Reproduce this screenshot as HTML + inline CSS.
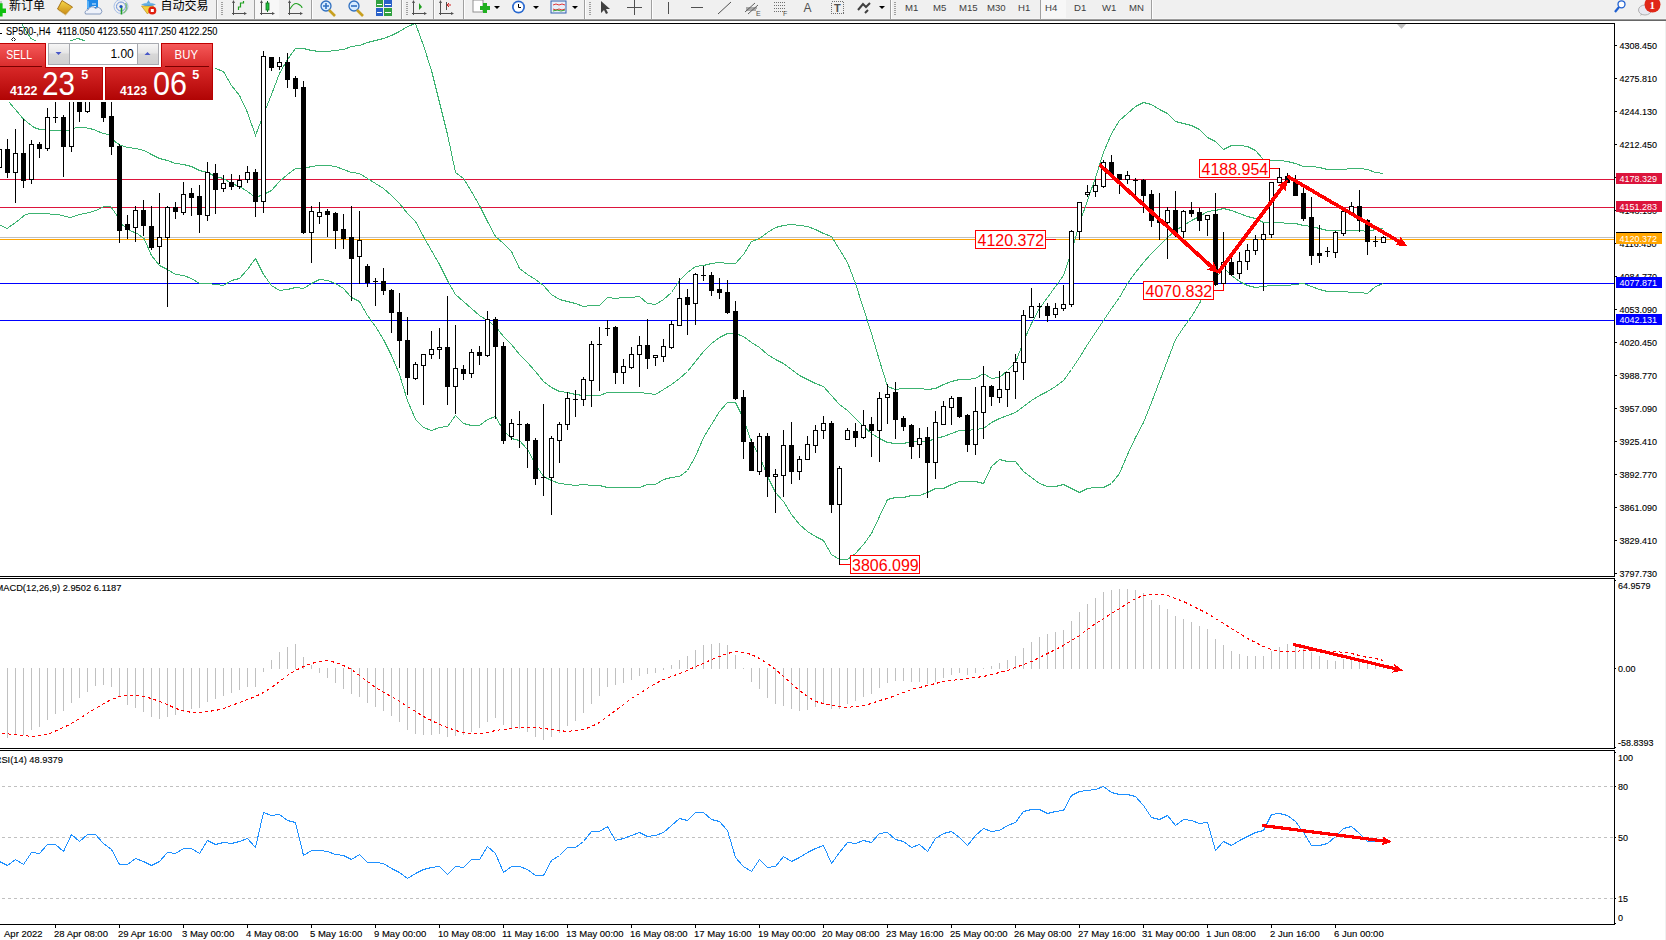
<!DOCTYPE html>
<html><head><meta charset="utf-8"><title>SP500-,H4</title>
<style>
html,body{margin:0;padding:0;background:#fff;}
body{width:1666px;height:940px;overflow:hidden;position:relative;}
svg{position:absolute;left:0;top:0;display:block;}
</style></head><body>
<svg width="1666" height="940" viewBox="0 0 1666 940">
<rect x="0" y="0" width="1666" height="19" fill="#f0f0f0"/>
<rect x="0" y="18" width="1666" height="1" fill="#f5f5f5"/>
<rect x="0" y="19" width="1666" height="1" fill="#9c9c9c"/>
<rect x="0" y="20" width="1666" height="1" fill="#666666"/>
<rect x="1665" y="21" width="1" height="919" fill="#f0f0f0"/>
<rect x="216" y="0" width="1" height="19" fill="#a0a0a0"/><rect x="217" y="0" width="1" height="19" fill="#fdfdfd"/>
<rect x="254" y="0" width="1" height="19" fill="#a0a0a0"/><rect x="255" y="0" width="1" height="19" fill="#fdfdfd"/>
<rect x="311" y="0" width="1" height="19" fill="#a0a0a0"/><rect x="312" y="0" width="1" height="19" fill="#fdfdfd"/>
<rect x="401" y="0" width="1" height="19" fill="#a0a0a0"/><rect x="402" y="0" width="1" height="19" fill="#fdfdfd"/>
<rect x="433" y="0" width="1" height="19" fill="#a0a0a0"/><rect x="434" y="0" width="1" height="19" fill="#fdfdfd"/>
<rect x="463" y="0" width="1" height="19" fill="#a0a0a0"/><rect x="464" y="0" width="1" height="19" fill="#fdfdfd"/>
<rect x="584" y="0" width="1" height="19" fill="#a0a0a0"/><rect x="585" y="0" width="1" height="19" fill="#fdfdfd"/>
<rect x="651" y="0" width="1" height="19" fill="#a0a0a0"/><rect x="652" y="0" width="1" height="19" fill="#fdfdfd"/>
<rect x="890" y="0" width="1" height="19" fill="#a0a0a0"/><rect x="891" y="0" width="1" height="19" fill="#fdfdfd"/>
<rect x="1040" y="0" width="1" height="19" fill="#a0a0a0"/><rect x="1041" y="0" width="1" height="19" fill="#fdfdfd"/>
<rect x="1151" y="0" width="1" height="19" fill="#a0a0a0"/><rect x="1152" y="0" width="1" height="19" fill="#fdfdfd"/>
<path d="M221 2.5h2M221 4.5h2M221 6.5h2M221 8.5h2M221 10.5h2M221 12.5h2M221 14.5h2" stroke="#a0a0a0" stroke-width="1" shape-rendering="crispEdges"/>
<path d="M406 2.5h2M406 4.5h2M406 6.5h2M406 8.5h2M406 10.5h2M406 12.5h2M406 14.5h2" stroke="#a0a0a0" stroke-width="1" shape-rendering="crispEdges"/>
<path d="M589 2.5h2M589 4.5h2M589 6.5h2M589 8.5h2M589 10.5h2M589 12.5h2M589 14.5h2" stroke="#a0a0a0" stroke-width="1" shape-rendering="crispEdges"/>
<path d="M894 2.5h2M894 4.5h2M894 6.5h2M894 8.5h2M894 10.5h2M894 12.5h2M894 14.5h2" stroke="#a0a0a0" stroke-width="1" shape-rendering="crispEdges"/>
<rect x="255" y="0" width="24" height="18" fill="#f7f7f7"/>
<rect x="1041" y="0" width="25" height="18" fill="#f7f7f7"/>
<rect x="1040" y="0" width="1" height="18" fill="#a0a0a0"/>
<g font-family='"Liberation Sans", "Noto Sans CJK SC", "WenQuanYi Zen Hei", sans-serif' font-size="12" fill="#000"><text x="9" y="10">新订单</text><text x="160.5" y="10">自动交易</text></g>
<g font-family='"Liberation Sans", "DejaVu Sans", sans-serif' font-size="9.6" fill="#404040">
<text x="905" y="10.5">M1</text>
<text x="933" y="10.5">M5</text>
<text x="959" y="10.5">M15</text>
<text x="987" y="10.5">M30</text>
<text x="1018" y="10.5">H1</text>
<text x="1045" y="10.5">H4</text>
<text x="1074" y="10.5">D1</text>
<text x="1102" y="10.5">W1</text>
<text x="1129" y="10.5">MN</text>
</g>
<rect x="0" y="1" width="2" height="4" fill="#c8c8c8"/><path d="M0 3.3h2.6V8.6H6V13H2.6v3.4H0z" fill="#10c010"/>
<defs><linearGradient id="gbook" x1="0" y1="0" x2="0" y2="1"><stop offset="0" stop-color="#f7d84a"/><stop offset="1" stop-color="#c88a18"/></linearGradient><linearGradient id="ghat" x1="0" y1="0" x2="0" y2="1"><stop offset="0" stop-color="#9fd0f0"/><stop offset="1" stop-color="#3a90d0"/></linearGradient></defs>
<path d="M57.5 9L62 0.5 72.5 7 65.5 14.8z" fill="url(#gbook)" stroke="#a06a10" stroke-width="0.9"/><path d="M58.5 10.5l7 4.5 6.5-7" stroke="#e8d8a0" stroke-width="0.8" fill="none"/>
<path d="M87 0h11v9h-11z" fill="#1e88e8"/><path d="M87 0l2 1.5v7.5l-2 -1z" fill="#56b0f8"/><rect x="92" y="3.5" width="4" height="1" fill="#e0f0ff"/><rect x="92" y="6" width="4" height="1" fill="#e0f0ff"/><path d="M85.5 14a2.6 2.6 0 0 1 2.5-4a4.2 4.2 0 0 1 7.5-1.5a3 3 0 0 1 5 5.5z" fill="#eef2fa" stroke="#7890b8" stroke-width="0.9"/>
<circle cx="121" cy="6.5" r="7" fill="none" stroke="#a8c0e8" stroke-width="1"/><circle cx="121" cy="6.5" r="4.5" fill="none" stroke="#6a90d8" stroke-width="1"/><path d="M125.5 3a7 7 0 0 1 -2 10" stroke="#80c080" stroke-width="1.5" fill="none"/><path d="M121.5 6.5v8" stroke="#20a020" stroke-width="1.6"/><circle cx="121" cy="6.5" r="1.6" fill="#2050c0"/>
<path d="M141.5 6l6 8 6-8z" fill="#f2d040" stroke="#c09020" stroke-width="0.7"/><path d="M141 4.5q7.5-4 15 0q-7.5 3-15 0z" fill="url(#ghat)"/><path d="M146.5 3.5l2-3.5 2 3.5z" fill="#5aa8e0"/><circle cx="152.3" cy="10.5" r="4" fill="#e02010"/><rect x="150.8" y="9" width="3" height="3" fill="#fff"/>
<path d="M233.5 1v14M232 13.5h14" stroke="#505050" stroke-width="1" fill="none" shape-rendering="crispEdges"/><path d="M244 12l3 1.5l-3 1.5z M232 3l1.5-3l1.5 3z" fill="#505050"/><path d="M238.5 10v-3h2v-4h3v-2" stroke="#20a020" stroke-width="1.2" fill="none"/>
<path d="M261.5 1v14M260 13.5h14" stroke="#505050" stroke-width="1" fill="none" shape-rendering="crispEdges"/><path d="M272 12l3 1.5l-3 1.5z M260 3l1.5-3l1.5 3z" fill="#505050"/><rect x="266" y="3" width="3" height="7" fill="#20c040" stroke="#107020" stroke-width="0.8"/><path d="M267.5 1v2M267.5 10v2" stroke="#107020"/>
<path d="M289.5 1v14M288 13.5h14" stroke="#505050" stroke-width="1" fill="none" shape-rendering="crispEdges"/><path d="M300 12l3 1.5l-3 1.5z M288 3l1.5-3l1.5 3z" fill="#505050"/><path d="M290 9q4-7 8-5t4 4" stroke="#20a020" stroke-width="1.1" fill="none"/>
<circle cx="326" cy="6" r="5" fill="#d8ecff" stroke="#3070c0" stroke-width="1.3"/><path d="M329 10l6 6" stroke="#c8a020" stroke-width="2.6"/>
<path d="M323 6h6M326 3v6" stroke="#3070c0" stroke-width="1.6"/>
<circle cx="354" cy="6" r="5" fill="#d8ecff" stroke="#3070c0" stroke-width="1.3"/><path d="M357 10l6 6" stroke="#c8a020" stroke-width="2.6"/>
<path d="M351 6h6" stroke="#3070c0" stroke-width="1.6"/>
<rect x="376" y="0" width="7" height="7" fill="#30a040"/><rect x="384" y="0" width="8" height="7" fill="#2860c8"/><rect x="376" y="8" width="7" height="8" fill="#2860c8"/><rect x="384" y="8" width="8" height="8" fill="#30a040"/><path d="M377 4.5h5M385 4.5h6M377 12.5h5M385 12.5h6" stroke="#fff" stroke-width="1"/>
<path d="M413.5 1v14M412 13.5h14" stroke="#505050" stroke-width="1" fill="none" shape-rendering="crispEdges"/><path d="M424 12l3 1.5l-3 1.5z M412 3l1.5-3l1.5 3z" fill="#505050"/><path d="M419 3v7l3-3z" fill="#20a020"/>
<path d="M440.5 1v14M439 13.5h14" stroke="#505050" stroke-width="1" fill="none" shape-rendering="crispEdges"/><path d="M451 12l3 1.5l-3 1.5z M439 3l1.5-3l1.5 3z" fill="#505050"/><path d="M451 5h-4l2-2m-2 2l2 2" stroke="#d02020" stroke-width="1" fill="none"/><path d="M446.5 2v8" stroke="#505050"/>
<rect x="473" y="0" width="10" height="12" fill="#fff" stroke="#909090" stroke-width="1"/><path d="M480 8h10M485 3v10" stroke="#20b020" stroke-width="4"/>
<path d="M494 6h6l-3 3z" fill="#000"/>
<path d="M533 6h6l-3 3z" fill="#000"/>
<path d="M572 6h6l-3 3z" fill="#000"/>
<path d="M879 6h6l-3 3z" fill="#000"/>
<circle cx="518.5" cy="7" r="6.5" fill="#2a6ad0"/><circle cx="518.5" cy="7" r="4.8" fill="#fff"/><path d="M518.5 4v3.5h2.5" stroke="#000" stroke-width="1" fill="none"/>
<rect x="551" y="1" width="15" height="12" fill="#e8eef8" stroke="#3060b0" stroke-width="1"/><path d="M553 5l3-1 3 1 3-1 3 1M553 9l3 1 3-1 3 1 3-1" stroke="#e02020" stroke-width="0.9" fill="none"/><path d="M553 11l4-1 4 1 4-1" stroke="#20a020" stroke-width="0.9" fill="none"/>
<path d="M601 1v12l3-3 2 4 2-1-2-4h4z" fill="#404040"/>
<path d="M634.5 0v15M627 7.5h15" stroke="#505050" stroke-width="1" shape-rendering="crispEdges"/>
<path d="M668.5 2v12" stroke="#505050" stroke-width="1" shape-rendering="crispEdges"/>
<path d="M691 7.5h12" stroke="#505050" stroke-width="1" shape-rendering="crispEdges"/>
<path d="M718 14l13-12" stroke="#505050" stroke-width="1"/>
<path d="M745 12l10-9M748 14l10-9M746 8h11M746 10h10" stroke="#505050" stroke-width="0.9"/><text x="756" y="16" font-family='"Liberation Sans", "DejaVu Sans", sans-serif' font-size="7" fill="#505050">E</text>
<path d="M774 2.5h12M774 5.5h12M774 8.5h12M774 11.5h12" stroke="#707070" stroke-width="1" stroke-dasharray="1 1" shape-rendering="crispEdges"/><text x="783" y="16" font-family='"Liberation Sans", "DejaVu Sans", sans-serif' font-size="7" fill="#505050">F</text>
<text x="803.5" y="12" font-family='"Liberation Sans", "DejaVu Sans", sans-serif' font-size="12" fill="#505050">A</text>
<rect x="831.5" y="1.5" width="12" height="12" fill="none" stroke="#707070" stroke-dasharray="1 1" shape-rendering="crispEdges"/><text x="834" y="11.5" font-family='"Liberation Sans", "DejaVu Sans", sans-serif' font-size="11" font-weight="bold" fill="#505050">T</text>
<path d="M858 10l5-6 3 3 4-4M865 13l3-3" stroke="#404040" stroke-width="2" fill="none"/>
<circle cx="1621.5" cy="4.3" r="3.5" fill="#fff" stroke="#2060d0" stroke-width="1.3"/><path d="M1619 7l-4 5" stroke="#2060d0" stroke-width="2.2"/>
<ellipse cx="1645" cy="10" rx="6.5" ry="5" fill="#e8e8f0" stroke="#b0b0b0" stroke-width="1"/><path d="M1641 14l-1 2 3-2z" fill="#b0b0b0"/>
<circle cx="1652.5" cy="4.5" r="8" fill="#e02818"/><text x="1649.5" y="8.5" font-family='"Liberation Serif", serif' font-size="11" font-weight="bold" fill="#fff">1</text>
<defs><clipPath id="cm"><rect x="0" y="24" width="1614" height="552"/></clipPath><clipPath id="cmacd"><rect x="0" y="579" width="1614" height="169"/></clipPath><clipPath id="crsi"><rect x="0" y="751" width="1614" height="173"/></clipPath></defs>
<g shape-rendering="crispEdges" stroke="#000" stroke-width="1" fill="none">
<path d="M0 23.5H1614.5V576.5H0M0 578.5H1614.5V748.5H0M0 750.5H1614.5V924.5H0"/>
</g>
<g shape-rendering="crispEdges" stroke-width="1" clip-path="url(#cm)">
<line x1="0" x2="1614" y1="179.5" y2="179.5" stroke="#dc143c"/>
<line x1="0" x2="1614" y1="207.5" y2="207.5" stroke="#dc143c"/>
<line x1="0" x2="1614" y1="237.5" y2="237.5" stroke="#c0c0c0"/>
<line x1="0" x2="1614" y1="239.5" y2="239.5" stroke="#ffa500"/>
<line x1="0" x2="1614" y1="283.5" y2="283.5" stroke="#0000ff"/>
<line x1="0" x2="1614" y1="320.5" y2="320.5" stroke="#0000ff"/>
</g>
<polygon points="1397,24 1406,24 1401.5,29" fill="#c0c0c0"/>
<g clip-path="url(#cm)" shape-rendering="crispEdges" stroke="#3cb371" stroke-width="1" fill="none">
<polyline fill="none"  points="-1,0.5 15,10.5 22.3,24.5 27,32.5 31,38.5 35,40.5 40,46.5 55,48.5 63,46.5 71,40.5 78,38.5 84,40.5 87,44.5 95,47.5 110,50.5 130,52.5 146,52.5 151.5,54.5 159.5,52.5 167.5,52.5 175.5,52.5 183.5,53.5 191.5,55.5 199.5,57.5 207.5,62.5 215.5,68.5 223.5,71.5 231.5,85.5 239.5,95.5 247.5,112.5 255.5,135.5 263.5,114.5 271.5,94.5 279.5,73.5 287.5,59.5 295.5,48.5 303.5,48.5 311.5,50.5 319.5,51.5 327.5,51.5 335.5,50.5 343.5,49.5 351.5,46.5 359.5,45.5 367.5,42.5 375.5,40.5 383.5,38.5 391.5,35.5 399.5,31.5 407.5,26.5 415.5,23.5 423.5,45.5 431.5,70.5 439.5,102.5 447.5,134.5 455.5,172.5 463.5,178.5 471.5,191.5 479.5,205.5 487.5,221.5 495.5,236.5 503.5,243.5 511.5,251.5 519.5,268.5 527.5,274.5 535.5,279.5 543.5,285.5 551.5,294.5 559.5,299.5 567.5,301.5 575.5,303.5 583.5,306.5 591.5,305.5 599.5,305.5 607.5,297.5 615.5,298.5 623.5,297.5 631.5,297.5 639.5,296.5 647.5,303.5 655.5,304.5 663.5,299.5 671.5,292.5 679.5,280.5 687.5,272.5 695.5,266.5 703.5,265.5 711.5,263.5 719.5,262.5 727.5,263.5 735.5,263.5 743.5,254.5 751.5,241.5 759.5,238.5 767.5,232.5 775.5,227.5 783.5,225.5 791.5,224.5 799.5,225.5 807.5,226.5 815.5,229.5 823.5,233.5 831.5,236.5 839.5,249.5 847.5,262.5 855.5,283.5 863.5,308.5 871.5,333.5 879.5,360.5 887.5,386.5 895.5,389.5 903.5,388.5 911.5,388.5 919.5,388.5 927.5,389.5 935.5,388.5 943.5,384.5 951.5,381.5 959.5,379.5 967.5,379.5 975.5,378.5 983.5,373.5 991.5,378.5 999.5,377.5 1007.5,370.5 1015.5,362.5 1023.5,341.5 1031.5,323.5 1039.5,308.5 1047.5,297.5 1055.5,286.5 1063.5,275.5 1071.5,251.5 1079.5,223.5 1087.5,200.5 1095.5,177.5 1103.5,152.5 1111.5,133.5 1119.5,120.5 1127.5,113.5 1135.5,106.5 1143.5,102.5 1151.5,104.5 1159.5,109.5 1167.5,113.5 1175.5,121.5 1183.5,123.5 1191.5,125.5 1199.5,129.5 1207.5,137.5 1215.5,141.5 1223.5,149.5 1231.5,145.5 1239.5,145.5 1247.5,146.5 1255.5,150.5 1263.5,159.5 1271.5,160.5 1279.5,160.5 1287.5,161.5 1295.5,163.5 1303.5,166.5 1311.5,166.5 1319.5,167.5 1327.5,169.5 1335.5,169.5 1343.5,169.5 1351.5,168.5 1359.5,168.5 1367.5,169.5 1375.5,172.5 1383.5,173.5"/>
<polyline fill="none"  points="-1,92.5 9.4,102.5 23.8,119.5 34,127.5 40,129.5 51,130.5 61,130.5 68,130.5 76.6,127.5 85,127.5 93.6,129.5 103,133.5 109,134.5 116,142.5 121,145.5 128,147.5 136,148.5 144,150.5 151.5,154.5 159.5,158.5 167.5,160.5 175.5,163.5 183.5,164.5 191.5,166.5 199.5,170.5 207.5,172.5 215.5,176.5 223.5,178.5 231.5,183.5 239.5,186.5 247.5,191.5 255.5,197.5 263.5,194.5 271.5,190.5 279.5,181.5 287.5,174.5 295.5,168.5 303.5,168.5 311.5,166.5 319.5,165.5 327.5,165.5 335.5,166.5 343.5,169.5 351.5,172.5 359.5,173.5 367.5,178.5 375.5,183.5 383.5,188.5 391.5,195.5 399.5,203.5 407.5,213.5 415.5,221.5 423.5,236.5 431.5,250.5 439.5,264.5 447.5,280.5 455.5,294.5 463.5,301.5 471.5,308.5 479.5,315.5 487.5,320.5 495.5,326.5 503.5,336.5 511.5,344.5 519.5,354.5 527.5,362.5 535.5,371.5 543.5,381.5 551.5,387.5 559.5,391.5 567.5,392.5 575.5,394.5 583.5,395.5 591.5,395.5 599.5,395.5 607.5,392.5 615.5,392.5 623.5,392.5 631.5,392.5 639.5,392.5 647.5,393.5 655.5,394.5 663.5,389.5 671.5,384.5 679.5,378.5 687.5,371.5 695.5,361.5 703.5,351.5 711.5,343.5 719.5,337.5 727.5,333.5 735.5,333.5 743.5,336.5 751.5,342.5 759.5,347.5 767.5,354.5 775.5,359.5 783.5,363.5 791.5,369.5 799.5,375.5 807.5,379.5 815.5,383.5 823.5,386.5 831.5,395.5 839.5,404.5 847.5,410.5 855.5,418.5 863.5,426.5 871.5,433.5 879.5,438.5 887.5,442.5 895.5,443.5 903.5,443.5 911.5,441.5 919.5,441.5 927.5,441.5 935.5,438.5 943.5,436.5 951.5,433.5 959.5,430.5 967.5,430.5 975.5,429.5 983.5,428.5 991.5,422.5 999.5,418.5 1007.5,415.5 1015.5,412.5 1023.5,406.5 1031.5,400.5 1039.5,395.5 1047.5,391.5 1055.5,386.5 1063.5,380.5 1071.5,369.5 1079.5,357.5 1087.5,344.5 1095.5,332.5 1103.5,320.5 1111.5,308.5 1119.5,297.5 1127.5,283.5 1135.5,272.5 1143.5,262.5 1151.5,253.5 1159.5,245.5 1167.5,237.5 1175.5,230.5 1183.5,225.5 1191.5,220.5 1199.5,216.5 1207.5,211.5 1215.5,210.5 1223.5,208.5 1231.5,210.5 1239.5,213.5 1247.5,216.5 1255.5,218.5 1263.5,222.5 1271.5,222.5 1279.5,222.5 1287.5,223.5 1295.5,223.5 1303.5,225.5 1311.5,226.5 1319.5,228.5 1327.5,230.5 1335.5,230.5 1343.5,230.5 1351.5,230.5 1359.5,230.5 1367.5,231.5 1375.5,229.5 1383.5,228.5"/>
<polyline fill="none"  points="-1,224.5 7,228.5 17,221.5 25.5,214.5 30,213.5 42.5,213.5 57.9,214.5 70,217.5 80,214.5 90,212.5 98,209.5 104,206.5 110.6,206.5 117,215.5 123,225.5 130,230.5 137,233.5 144,238.5 151.5,255.5 159.5,265.5 167.5,269.5 175.5,274.5 183.5,275.5 191.5,278.5 199.5,283.5 207.5,283.5 215.5,284.5 223.5,285.5 231.5,280.5 239.5,278.5 247.5,269.5 255.5,258.5 263.5,274.5 271.5,285.5 279.5,290.5 287.5,289.5 295.5,287.5 303.5,288.5 311.5,283.5 319.5,279.5 327.5,280.5 335.5,283.5 343.5,288.5 351.5,297.5 359.5,301.5 367.5,315.5 375.5,326.5 383.5,339.5 391.5,355.5 399.5,374.5 407.5,400.5 415.5,419.5 423.5,427.5 431.5,430.5 439.5,427.5 447.5,426.5 455.5,415.5 463.5,423.5 471.5,425.5 479.5,425.5 487.5,419.5 495.5,416.5 503.5,430.5 511.5,438.5 519.5,440.5 527.5,449.5 535.5,464.5 543.5,476.5 551.5,480.5 559.5,483.5 567.5,484.5 575.5,485.5 583.5,484.5 591.5,485.5 599.5,485.5 607.5,487.5 615.5,487.5 623.5,487.5 631.5,487.5 639.5,487.5 647.5,484.5 655.5,484.5 663.5,479.5 671.5,477.5 679.5,476.5 687.5,470.5 695.5,456.5 703.5,437.5 711.5,424.5 719.5,411.5 727.5,402.5 735.5,402.5 743.5,418.5 751.5,442.5 759.5,455.5 767.5,476.5 775.5,492.5 783.5,501.5 791.5,514.5 799.5,524.5 807.5,531.5 815.5,536.5 823.5,540.5 831.5,554.5 839.5,559.5 847.5,559.5 855.5,553.5 863.5,544.5 871.5,533.5 879.5,516.5 887.5,499.5 895.5,497.5 903.5,497.5 911.5,495.5 919.5,495.5 927.5,492.5 935.5,488.5 943.5,488.5 951.5,484.5 959.5,481.5 967.5,481.5 975.5,481.5 983.5,483.5 991.5,466.5 999.5,459.5 1007.5,461.5 1015.5,461.5 1023.5,471.5 1031.5,477.5 1039.5,483.5 1047.5,486.5 1055.5,486.5 1063.5,484.5 1071.5,488.5 1079.5,492.5 1087.5,488.5 1095.5,487.5 1103.5,487.5 1111.5,483.5 1119.5,473.5 1127.5,454.5 1135.5,437.5 1143.5,422.5 1151.5,402.5 1159.5,381.5 1167.5,360.5 1175.5,339.5 1183.5,327.5 1191.5,316.5 1199.5,303.5 1207.5,286.5 1215.5,278.5 1223.5,267.5 1231.5,275.5 1239.5,281.5 1247.5,285.5 1255.5,287.5 1263.5,286.5 1271.5,285.5 1279.5,285.5 1287.5,285.5 1295.5,284.5 1303.5,283.5 1311.5,286.5 1319.5,289.5 1327.5,291.5 1335.5,291.5 1343.5,291.5 1351.5,292.5 1359.5,292.5 1367.5,293.5 1375.5,286.5 1383.5,283.5"/>
</g>
<g clip-path="url(#cm)" shape-rendering="crispEdges">
<path stroke="#000" stroke-width="1" fill="none" d="M-0.5 145V171M7.5 139V178M15.5 129V203M23.5 119V188M31.5 140V184M39.5 142V158M47.5 108V151M55.5 102V123M63.5 115V177M71.5 78V152M79.5 80V122M87.5 76V113M95.5 74V93M103.5 80V122M111.5 95V155M119.5 144V243M127.5 215V239M135.5 206V242M143.5 200V236M151.5 206V250M159.5 193V264M167.5 206V307M175.5 202V219M183.5 182V215M191.5 188V216M199.5 185V233M207.5 162V221M215.5 164V214M223.5 175V192M231.5 174V190M239.5 175V189M247.5 166V183M255.5 169V217M263.5 51V213M271.5 57V71M279.5 57V70M287.5 53V88M295.5 76V97M303.5 81V234M311.5 206V263M319.5 202V224M327.5 209V237M335.5 212V249M343.5 214V249M351.5 206V301M359.5 211V284M367.5 264V287M375.5 278V306M383.5 268V295M391.5 289V333M399.5 293V368M407.5 317V395M415.5 362V380M423.5 354V405M431.5 331V359M439.5 328V359M447.5 296V405M455.5 325V414M463.5 365V380M471.5 349V378M479.5 346V365M487.5 311V357M495.5 317V419M503.5 342V444M511.5 419V440M519.5 411V448M527.5 423V468M535.5 438V485M543.5 404V496M551.5 436V515M559.5 422V463M567.5 392V430M575.5 390V417M583.5 377V406M591.5 341V407M599.5 327V391M607.5 320V336M615.5 326V384M623.5 359V384M631.5 347V369M639.5 336V387M647.5 319V369M655.5 355V366M663.5 339V362M671.5 321V349M679.5 278V326M687.5 289V335M695.5 273V325M703.5 266V281M711.5 272V296M719.5 278V299M727.5 280V314M735.5 301V400M743.5 390V459M751.5 439V471M759.5 433V475M767.5 433V497M775.5 469V513M783.5 430V497M791.5 422V484M799.5 456V480M807.5 436V460M815.5 425V453M823.5 416V439M831.5 421V513M839.5 466V565M847.5 428V440M855.5 423V447M863.5 410V439M871.5 417V457M879.5 392V462M887.5 384V424M895.5 382V439M903.5 416V431M911.5 424V459M919.5 428V458M927.5 427V498M935.5 411V479M943.5 401V425M951.5 396V425M959.5 397V418M967.5 414V452M975.5 387V455M983.5 366V439M991.5 385V406M999.5 371V403M1007.5 372V407M1015.5 354V399M1023.5 310V380M1031.5 288V318M1039.5 303V318M1047.5 303V322M1055.5 303V318M1063.5 285V311M1071.5 230V307M1079.5 202V240M1087.5 185V197M1095.5 179V197M1103.5 160V188M1111.5 155V175M1119.5 174V194M1127.5 171V184M1135.5 178V195M1143.5 179V213M1151.5 190V227M1159.5 193V240M1167.5 207V259M1175.5 191V237M1183.5 210V238M1191.5 202V217M1199.5 208V231M1207.5 215V236M1215.5 193V286M1223.5 232V291M1231.5 258V276M1239.5 252V279M1247.5 244V270M1255.5 235V255M1263.5 223V291M1271.5 182V238M1279.5 168V183M1287.5 173V183M1295.5 175V196M1303.5 188V221M1311.5 197V265M1319.5 225V263M1327.5 247V257M1335.5 231V258M1343.5 211V236M1351.5 202V216M1359.5 190V232M1367.5 219V255M1375.5 236V247M1383.5 236V243"/>
<path fill="#000" d="M5 149h5v24h-5zM21 153h5v28h-5zM37 144h5v5h-5zM53 117h5v1h-5zM61 117h5v30h-5zM77 86h5v26h-5zM93 80h5v5h-5zM101 86h5v32h-5zM109 116h5v31h-5zM117 146h5v85h-5zM125 224h5v6h-5zM141 210h5v16h-5zM149 226h5v22h-5zM173 207h5v5h-5zM189 193h5v5h-5zM197 196h5v19h-5zM213 173h5v17h-5zM229 182h5v5h-5zM253 172h5v30h-5zM269 57h5v11h-5zM285 62h5v18h-5zM293 78h5v11h-5zM301 87h5v146h-5zM325 211h5v4h-5zM333 213h5v18h-5zM341 229h5v10h-5zM349 237h5v22h-5zM365 266h5v17h-5zM373 281h5v1h-5zM381 281h5v10h-5zM389 290h5v23h-5zM397 312h5v29h-5zM405 340h5v38h-5zM445 347h5v40h-5zM461 369h5v5h-5zM477 352h5v4h-5zM493 319h5v28h-5zM501 346h5v95h-5zM517 424h5v1h-5zM525 424h5v17h-5zM533 440h5v39h-5zM541 477h5v1h-5zM573 399h5v1h-5zM597 344h5v1h-5zM605 328h5v1h-5zM613 327h5v46h-5zM645 345h5v14h-5zM685 297h5v8h-5zM701 275h5v1h-5zM709 275h5v16h-5zM717 289h5v4h-5zM725 292h5v21h-5zM733 311h5v88h-5zM741 397h5v45h-5zM749 442h5v29h-5zM765 436h5v41h-5zM789 445h5v27h-5zM829 423h5v82h-5zM853 431h5v7h-5zM869 424h5v7h-5zM893 392h5v28h-5zM901 418h5v9h-5zM909 425h5v22h-5zM925 437h5v26h-5zM957 397h5v20h-5zM965 415h5v30h-5zM989 386h5v11h-5zM1037 306h5v1h-5zM1045 306h5v10h-5zM1109 162h5v13h-5zM1117 174h5v6h-5zM1133 180h5v1h-5zM1141 180h5v16h-5zM1149 194h5v27h-5zM1157 219h5v4h-5zM1173 210h5v23h-5zM1189 210h5v4h-5zM1197 212h5v9h-5zM1213 214h5v71h-5zM1229 262h5v13h-5zM1285 176h5v7h-5zM1293 182h5v14h-5zM1301 193h5v26h-5zM1309 217h5v39h-5zM1317 253h5v3h-5zM1325 251h5v1h-5zM1357 206h5v15h-5zM1365 220h5v22h-5zM1373 241h5v1h-5z"/>
<rect x="-2.5" y="149.5" width="4" height="18" fill="#fff" stroke="#000"/>
<rect x="13.5" y="153.5" width="4" height="19" fill="#fff" stroke="#000"/>
<rect x="29.5" y="144.5" width="4" height="35" fill="#fff" stroke="#000"/>
<rect x="45.5" y="117.5" width="4" height="31" fill="#fff" stroke="#000"/>
<rect x="69.5" y="84.5" width="4" height="62" fill="#fff" stroke="#000"/>
<rect x="85.5" y="82.5" width="4" height="29" fill="#fff" stroke="#000"/>
<rect x="133.5" y="210.5" width="4" height="17" fill="#fff" stroke="#000"/>
<rect x="157.5" y="237.5" width="4" height="9" fill="#fff" stroke="#000"/>
<rect x="165.5" y="207.5" width="4" height="30" fill="#fff" stroke="#000"/>
<rect x="181.5" y="194.5" width="4" height="18" fill="#fff" stroke="#000"/>
<rect x="205.5" y="172.5" width="4" height="43" fill="#fff" stroke="#000"/>
<rect x="221.5" y="183.5" width="4" height="5" fill="#fff" stroke="#000"/>
<rect x="237.5" y="180.5" width="4" height="6" fill="#fff" stroke="#000"/>
<rect x="245.5" y="172.5" width="4" height="7" fill="#fff" stroke="#000"/>
<rect x="261.5" y="56.5" width="4" height="145" fill="#fff" stroke="#000"/>
<rect x="277.5" y="62.5" width="4" height="4" fill="#fff" stroke="#000"/>
<rect x="309.5" y="211.5" width="4" height="21" fill="#fff" stroke="#000"/>
<rect x="317.5" y="212.5" width="4" height="4" fill="#fff" stroke="#000"/>
<rect x="357.5" y="240.5" width="4" height="16" fill="#fff" stroke="#000"/>
<rect x="413.5" y="364.5" width="4" height="14" fill="#fff" stroke="#000"/>
<rect x="421.5" y="354.5" width="4" height="11" fill="#fff" stroke="#000"/>
<rect x="429.5" y="349.5" width="4" height="5" fill="#fff" stroke="#000"/>
<rect x="437.5" y="347.5" width="4" height="2" fill="#fff" stroke="#000"/>
<rect x="453.5" y="368.5" width="4" height="18" fill="#fff" stroke="#000"/>
<rect x="469.5" y="352.5" width="4" height="21" fill="#fff" stroke="#000"/>
<rect x="485.5" y="319.5" width="4" height="36" fill="#fff" stroke="#000"/>
<rect x="509.5" y="423.5" width="4" height="13" fill="#fff" stroke="#000"/>
<rect x="549.5" y="438.5" width="4" height="39" fill="#fff" stroke="#000"/>
<rect x="557.5" y="424.5" width="4" height="16" fill="#fff" stroke="#000"/>
<rect x="565.5" y="398.5" width="4" height="26" fill="#fff" stroke="#000"/>
<rect x="581.5" y="379.5" width="4" height="20" fill="#fff" stroke="#000"/>
<rect x="589.5" y="344.5" width="4" height="36" fill="#fff" stroke="#000"/>
<rect x="621.5" y="366.5" width="4" height="6" fill="#fff" stroke="#000"/>
<rect x="629.5" y="354.5" width="4" height="13" fill="#fff" stroke="#000"/>
<rect x="637.5" y="345.5" width="4" height="9" fill="#fff" stroke="#000"/>
<rect x="653.5" y="355.5" width="4" height="2" fill="#fff" stroke="#000"/>
<rect x="661.5" y="346.5" width="4" height="10" fill="#fff" stroke="#000"/>
<rect x="669.5" y="324.5" width="4" height="23" fill="#fff" stroke="#000"/>
<rect x="677.5" y="298.5" width="4" height="27" fill="#fff" stroke="#000"/>
<rect x="693.5" y="274.5" width="4" height="29" fill="#fff" stroke="#000"/>
<rect x="757.5" y="436.5" width="4" height="35" fill="#fff" stroke="#000"/>
<rect x="773.5" y="474.5" width="4" height="2" fill="#fff" stroke="#000"/>
<rect x="781.5" y="445.5" width="4" height="30" fill="#fff" stroke="#000"/>
<rect x="797.5" y="459.5" width="4" height="12" fill="#fff" stroke="#000"/>
<rect x="805.5" y="444.5" width="4" height="15" fill="#fff" stroke="#000"/>
<rect x="813.5" y="430.5" width="4" height="15" fill="#fff" stroke="#000"/>
<rect x="821.5" y="423.5" width="4" height="7" fill="#fff" stroke="#000"/>
<rect x="837.5" y="468.5" width="4" height="36" fill="#fff" stroke="#000"/>
<rect x="845.5" y="430.5" width="4" height="9" fill="#fff" stroke="#000"/>
<rect x="861.5" y="425.5" width="4" height="12" fill="#fff" stroke="#000"/>
<rect x="877.5" y="398.5" width="4" height="32" fill="#fff" stroke="#000"/>
<rect x="885.5" y="394.5" width="4" height="3" fill="#fff" stroke="#000"/>
<rect x="917.5" y="438.5" width="4" height="6" fill="#fff" stroke="#000"/>
<rect x="933.5" y="422.5" width="4" height="40" fill="#fff" stroke="#000"/>
<rect x="941.5" y="406.5" width="4" height="18" fill="#fff" stroke="#000"/>
<rect x="949.5" y="398.5" width="4" height="9" fill="#fff" stroke="#000"/>
<rect x="973.5" y="411.5" width="4" height="33" fill="#fff" stroke="#000"/>
<rect x="981.5" y="386.5" width="4" height="26" fill="#fff" stroke="#000"/>
<rect x="997.5" y="389.5" width="4" height="8" fill="#fff" stroke="#000"/>
<rect x="1005.5" y="372.5" width="4" height="17" fill="#fff" stroke="#000"/>
<rect x="1013.5" y="362.5" width="4" height="9" fill="#fff" stroke="#000"/>
<rect x="1021.5" y="315.5" width="4" height="47" fill="#fff" stroke="#000"/>
<rect x="1029.5" y="306.5" width="4" height="11" fill="#fff" stroke="#000"/>
<rect x="1053.5" y="308.5" width="4" height="6" fill="#fff" stroke="#000"/>
<rect x="1061.5" y="304.5" width="4" height="4" fill="#fff" stroke="#000"/>
<rect x="1069.5" y="231.5" width="4" height="73" fill="#fff" stroke="#000"/>
<rect x="1077.5" y="202.5" width="4" height="29" fill="#fff" stroke="#000"/>
<rect x="1085.5" y="192.5" width="4" height="2" fill="#fff" stroke="#000"/>
<rect x="1093.5" y="185.5" width="4" height="6" fill="#fff" stroke="#000"/>
<rect x="1101.5" y="162.5" width="4" height="24" fill="#fff" stroke="#000"/>
<rect x="1125.5" y="175.5" width="4" height="4" fill="#fff" stroke="#000"/>
<rect x="1165.5" y="210.5" width="4" height="12" fill="#fff" stroke="#000"/>
<rect x="1181.5" y="211.5" width="4" height="20" fill="#fff" stroke="#000"/>
<rect x="1205.5" y="215.5" width="4" height="4" fill="#fff" stroke="#000"/>
<rect x="1221.5" y="262.5" width="4" height="21" fill="#fff" stroke="#000"/>
<rect x="1237.5" y="261.5" width="4" height="12" fill="#fff" stroke="#000"/>
<rect x="1245.5" y="250.5" width="4" height="11" fill="#fff" stroke="#000"/>
<rect x="1253.5" y="239.5" width="4" height="11" fill="#fff" stroke="#000"/>
<rect x="1261.5" y="234.5" width="4" height="5" fill="#fff" stroke="#000"/>
<rect x="1269.5" y="182.5" width="4" height="52" fill="#fff" stroke="#000"/>
<rect x="1277.5" y="177.5" width="4" height="5" fill="#fff" stroke="#000"/>
<rect x="1333.5" y="232.5" width="4" height="20" fill="#fff" stroke="#000"/>
<rect x="1341.5" y="211.5" width="4" height="22" fill="#fff" stroke="#000"/>
<rect x="1349.5" y="206.5" width="4" height="7" fill="#fff" stroke="#000"/>
<rect x="1381.5" y="237.5" width="4" height="5" fill="#fff" stroke="#000"/>
</g>
<g clip-path="url(#cmacd)" shape-rendering="crispEdges">
<path stroke="#c0c0c0" stroke-width="1" d="M-0.5 668V738M7.5 668V738M15.5 668V735M23.5 668V735M31.5 668V730M39.5 668V727M47.5 668V720M55.5 668V714M63.5 668V711M71.5 668V703M79.5 668V698M87.5 668V692M95.5 668V686M103.5 668V685M111.5 668V687M119.5 668V697M127.5 668V705M135.5 668V708M143.5 668V712M151.5 668V717M159.5 668V719M167.5 668V717M175.5 668V715M183.5 668V712M191.5 668V709M199.5 668V708M207.5 668V702M215.5 668V699M223.5 668V696M231.5 668V693M239.5 668V690M247.5 668V687M255.5 668V687M263.5 668V672M271.5 660V669M279.5 652V669M287.5 647V669M295.5 644V669M303.5 657V669M311.5 665V669M319.5 668V673M327.5 668V678M335.5 668V683M343.5 668V689M351.5 668V694M359.5 668V697M367.5 668V703M375.5 668V707M383.5 668V711M391.5 668V716M399.5 668V722M407.5 668V730M415.5 668V734M423.5 668V735M431.5 668V735M439.5 668V734M447.5 668V737M455.5 668V736M463.5 668V735M471.5 668V732M479.5 668V728M487.5 668V722M495.5 668V718M503.5 668V725M511.5 668V728M519.5 668V729M527.5 668V732M535.5 668V737M543.5 668V740M551.5 668V737M559.5 668V733M567.5 668V726M575.5 668V721M583.5 668V713M591.5 668V704M599.5 668V696M607.5 668V687M615.5 668V685M623.5 668V683M631.5 668V680M639.5 668V676M647.5 668V674M655.5 668V673M663.5 668V670M671.5 665V669M679.5 660V669M687.5 656V669M695.5 650V669M703.5 645V669M711.5 644V669M719.5 643V669M727.5 645V669M735.5 655V669M743.5 668V669M751.5 668V682M759.5 668V689M767.5 668V698M775.5 668V704M783.5 668V706M791.5 668V709M799.5 668V711M807.5 668V710M815.5 668V707M823.5 668V703M831.5 668V709M839.5 668V709M847.5 668V704M855.5 668V701M863.5 668V697M871.5 668V694M879.5 668V688M887.5 668V683M895.5 668V681M903.5 668V681M911.5 668V682M919.5 668V682M927.5 668V684M935.5 668V682M943.5 668V678M951.5 668V675M959.5 668V673M967.5 668V675M975.5 668V673M983.5 668V669M991.5 666V669M999.5 663V669M1007.5 660V669M1015.5 656V669M1023.5 648V669M1031.5 642V669M1039.5 637V669M1047.5 634V669M1055.5 632V669M1063.5 630V669M1071.5 621V669M1079.5 612V669M1087.5 604V669M1095.5 598V669M1103.5 592V669M1111.5 590V669M1119.5 589V669M1127.5 589V669M1135.5 590V669M1143.5 593V669M1151.5 600V669M1159.5 605V669M1167.5 609V669M1175.5 616V669M1183.5 619V669M1191.5 622V669M1199.5 626V669M1207.5 629V669M1215.5 639V669M1223.5 645V669M1231.5 651V669M1239.5 654V669M1247.5 656V669M1255.5 656V669M1263.5 656V669M1271.5 651V669M1279.5 647V669M1287.5 644V669M1295.5 643V669M1303.5 646V669M1311.5 652V669M1319.5 656V669M1327.5 660V669M1335.5 661V669M1343.5 659V669M1351.5 658V669M1359.5 658V669M1367.5 661V669M1375.5 663V669M1383.5 664V669"/>
<polyline fill="none" stroke="#ff0000" stroke-width="1" stroke-dasharray="3 3" points="-4,732.5 2.5,733.5 15,734.5 32.8,736.5 50,733.5 63.5,727.5 71.5,723.5 79.5,718.5 87.5,713.5 95.5,708.5 103.5,703.5 111.5,699.5 119.5,696.5 127.5,695.5 135.5,695.5 143.5,696.5 151.5,698.5 159.5,701.5 167.5,704.5 175.5,708.5 183.5,710.5 191.5,712.5 199.5,712.5 207.5,711.5 215.5,710.5 223.5,708.5 231.5,705.5 239.5,702.5 247.5,699.5 255.5,696.5 263.5,692.5 271.5,687.5 279.5,681.5 287.5,675.5 295.5,670.5 303.5,666.5 311.5,663.5 319.5,661.5 327.5,660.5 335.5,662.5 343.5,665.5 351.5,669.5 359.5,675.5 367.5,681.5 375.5,687.5 383.5,692.5 391.5,696.5 399.5,701.5 407.5,706.5 415.5,711.5 423.5,716.5 431.5,720.5 439.5,724.5 447.5,727.5 455.5,730.5 463.5,732.5 471.5,733.5 479.5,733.5 487.5,732.5 495.5,730.5 503.5,729.5 511.5,728.5 519.5,727.5 527.5,727.5 535.5,727.5 543.5,728.5 551.5,729.5 559.5,730.5 567.5,731.5 575.5,730.5 583.5,729.5 591.5,726.5 599.5,722.5 607.5,716.5 615.5,710.5 623.5,704.5 631.5,698.5 639.5,693.5 647.5,688.5 655.5,683.5 663.5,679.5 671.5,676.5 679.5,673.5 687.5,670.5 695.5,666.5 703.5,663.5 711.5,659.5 719.5,656.5 727.5,653.5 735.5,651.5 743.5,652.5 751.5,654.5 759.5,658.5 767.5,663.5 775.5,669.5 783.5,676.5 791.5,683.5 799.5,690.5 807.5,696.5 815.5,701.5 823.5,703.5 831.5,705.5 839.5,706.5 847.5,707.5 855.5,706.5 863.5,705.5 871.5,703.5 879.5,700.5 887.5,698.5 895.5,695.5 903.5,692.5 911.5,689.5 919.5,687.5 927.5,685.5 935.5,683.5 943.5,681.5 951.5,680.5 959.5,679.5 967.5,678.5 975.5,677.5 983.5,676.5 991.5,674.5 999.5,672.5 1007.5,670.5 1015.5,667.5 1023.5,664.5 1031.5,661.5 1039.5,657.5 1047.5,653.5 1055.5,649.5 1063.5,645.5 1071.5,640.5 1079.5,635.5 1087.5,629.5 1095.5,623.5 1103.5,618.5 1111.5,613.5 1119.5,608.5 1127.5,603.5 1135.5,598.5 1143.5,595.5 1151.5,594.5 1159.5,594.5 1167.5,595.5 1175.5,598.5 1183.5,601.5 1191.5,605.5 1199.5,609.5 1207.5,613.5 1215.5,618.5 1223.5,623.5 1231.5,628.5 1239.5,633.5 1247.5,638.5 1255.5,642.5 1263.5,646.5 1271.5,649.5 1279.5,651.5 1287.5,651.5 1295.5,651.5 1303.5,650.5 1311.5,650.5 1319.5,650.5 1327.5,651.5 1335.5,651.5 1343.5,652.5 1351.5,653.5 1359.5,655.5 1367.5,657.5 1375.5,658.5 1383.5,660.5"/>
</g>
<g clip-path="url(#crsi)" shape-rendering="crispEdges">
<path stroke="#c0c0c0" stroke-width="1" stroke-dasharray="3 3" d="M2 786.5H1614M2 837.5H1614M2 898.5H1614"/>
<polyline fill="none" stroke="#1e90ff" stroke-width="1" points="-0.5,861.5 7.5,865.5 15.5,859.5 23.5,864.5 31.5,852.5 39.5,853.5 47.5,844.5 55.5,844.5 63.5,851.5 71.5,834.5 79.5,841.5 87.5,834.5 95.5,834.5 103.5,843.5 111.5,849.5 119.5,864.5 127.5,864.5 135.5,858.5 143.5,861.5 151.5,865.5 159.5,861.5 167.5,852.5 175.5,853.5 183.5,848.5 191.5,848.5 199.5,853.5 207.5,840.5 215.5,844.5 223.5,842.5 231.5,843.5 239.5,841.5 247.5,838.5 255.5,847.5 263.5,812.5 271.5,815.5 279.5,814.5 287.5,820.5 295.5,822.5 303.5,855.5 311.5,850.5 319.5,850.5 327.5,851.5 335.5,854.5 343.5,855.5 351.5,859.5 359.5,854.5 367.5,862.5 375.5,862.5 383.5,863.5 391.5,868.5 399.5,872.5 407.5,878.5 415.5,873.5 423.5,869.5 431.5,867.5 439.5,866.5 447.5,874.5 455.5,866.5 463.5,867.5 471.5,859.5 479.5,859.5 487.5,846.5 495.5,853.5 503.5,872.5 511.5,866.5 519.5,866.5 527.5,869.5 535.5,875.5 543.5,875.5 551.5,860.5 559.5,855.5 567.5,847.5 575.5,847.5 583.5,841.5 591.5,831.5 599.5,831.5 607.5,826.5 615.5,840.5 623.5,838.5 631.5,835.5 639.5,832.5 647.5,836.5 655.5,835.5 663.5,832.5 671.5,825.5 679.5,818.5 687.5,820.5 695.5,812.5 703.5,812.5 711.5,819.5 719.5,821.5 727.5,830.5 735.5,857.5 743.5,866.5 751.5,871.5 759.5,859.5 767.5,867.5 775.5,866.5 783.5,856.5 791.5,861.5 799.5,857.5 807.5,852.5 815.5,848.5 823.5,845.5 831.5,863.5 839.5,852.5 847.5,842.5 855.5,843.5 863.5,840.5 871.5,842.5 879.5,833.5 887.5,832.5 895.5,839.5 903.5,841.5 911.5,847.5 919.5,844.5 927.5,851.5 935.5,838.5 943.5,833.5 951.5,831.5 959.5,837.5 967.5,845.5 975.5,835.5 983.5,828.5 991.5,831.5 999.5,830.5 1007.5,825.5 1015.5,822.5 1023.5,811.5 1031.5,809.5 1039.5,809.5 1047.5,813.5 1055.5,811.5 1063.5,810.5 1071.5,795.5 1079.5,791.5 1087.5,790.5 1095.5,789.5 1103.5,786.5 1111.5,792.5 1119.5,794.5 1127.5,794.5 1135.5,796.5 1143.5,805.5 1151.5,817.5 1159.5,819.5 1167.5,815.5 1175.5,825.5 1183.5,819.5 1191.5,820.5 1199.5,823.5 1207.5,822.5 1215.5,850.5 1223.5,841.5 1231.5,845.5 1239.5,840.5 1247.5,836.5 1255.5,832.5 1263.5,830.5 1271.5,814.5 1279.5,813.5 1287.5,815.5 1295.5,821.5 1303.5,832.5 1311.5,845.5 1319.5,845.5 1327.5,843.5 1335.5,836.5 1343.5,828.5 1351.5,826.5 1359.5,833.5 1367.5,841.5 1375.5,841.5 1383.5,839.5"/>
</g>
<g shape-rendering="crispEdges" stroke="#000" stroke-width="1">
<path d="M1615 45.5h2M1615 78.5h2M1615 111.5h2M1615 144.5h2M1615 177.5h2M1615 210.5h2M1615 243.5h2M1615 276.5h2M1615 309.5h2M1615 342.5h2M1615 375.5h2M1615 408.5h2M1615 441.5h2M1615 474.5h2M1615 507.5h2M1615 540.5h2M1615 573.5h2M1615 580.5h1M1615 668.5h1M1615 747.5h1M1615 752.5h1M1615 786.5h1M1615 837.5h1M1615 898.5h1M1615 923.5h1M55.5 925v3M119.5 925v3M183.5 925v3M247.5 925v3M311.5 925v3M375.5 925v3M439.5 925v3M503.5 925v3M567.5 925v3M631.5 925v3M695.5 925v3M759.5 925v3M823.5 925v3M887.5 925v3M951.5 925v3M1015.5 925v3M1079.5 925v3M1143.5 925v3M1207.5 925v3M1271.5 925v3M1335.5 925v3"/>
</g>
<g font-family='"Liberation Sans", "DejaVu Sans", sans-serif' font-size="9.8" fill="#000" stroke="#000" stroke-width="0.12">
<text transform="translate(1619.5 48.6) scale(0.92 1)">4308.450</text>
<text transform="translate(1619.5 81.6) scale(0.92 1)">4275.810</text>
<text transform="translate(1619.5 114.6) scale(0.92 1)">4244.130</text>
<text transform="translate(1619.5 147.6) scale(0.92 1)">4212.450</text>
<text transform="translate(1619.5 180.6) scale(0.92 1)">4180.770</text>
<text transform="translate(1619.5 213.6) scale(0.92 1)">4148.130</text>
<text transform="translate(1619.5 246.6) scale(0.92 1)">4116.450</text>
<text transform="translate(1619.5 279.6) scale(0.92 1)">4084.770</text>
<text transform="translate(1619.5 312.6) scale(0.92 1)">4053.090</text>
<text transform="translate(1619.5 345.6) scale(0.92 1)">4020.450</text>
<text transform="translate(1619.5 378.6) scale(0.92 1)">3988.770</text>
<text transform="translate(1619.5 411.6) scale(0.92 1)">3957.090</text>
<text transform="translate(1619.5 444.6) scale(0.92 1)">3925.410</text>
<text transform="translate(1619.5 477.6) scale(0.92 1)">3892.770</text>
<text transform="translate(1619.5 510.6) scale(0.92 1)">3861.090</text>
<text transform="translate(1619.5 543.6) scale(0.92 1)">3829.410</text>
<text transform="translate(1619.5 576.6) scale(0.92 1)">3797.730</text>
<text transform="translate(1618 588.5) scale(0.92 1)">64.9579</text>
<text transform="translate(1618 672) scale(0.92 1)">0.00</text>
<text transform="translate(1618 745.5) scale(0.92 1)">-58.8393</text>
<text transform="translate(1618 760.5) scale(0.92 1)">100</text>
<text transform="translate(1618 790) scale(0.92 1)">80</text>
<text transform="translate(1618 841) scale(0.92 1)">50</text>
<text transform="translate(1618 902) scale(0.92 1)">15</text>
<text transform="translate(1618 921) scale(0.92 1)">0</text>
</g>
<g shape-rendering="crispEdges">
<rect x="1616" y="173" width="46" height="11" fill="#dc143c"/>
<rect x="1616" y="201" width="46" height="11" fill="#dc143c"/>
<rect x="1616" y="232" width="46" height="11" fill="#000"/>
<rect x="1616" y="233" width="46" height="11" fill="#ffa500"/>
<rect x="1616" y="277" width="46" height="11" fill="#0000ff"/>
<rect x="1616" y="314" width="46" height="11" fill="#0000ff"/>
</g>
<g font-family='"Liberation Sans", "DejaVu Sans", sans-serif' font-size="9.8" fill="#fff">
<text transform="translate(1619.5 181.6) scale(0.92 1)">4178.329</text>
<text transform="translate(1619.5 209.6) scale(0.92 1)">4151.283</text>
<text transform="translate(1619.5 241.6) scale(0.92 1)">4120.372</text>
<text transform="translate(1619.5 285.6) scale(0.92 1)">4077.871</text>
<text transform="translate(1619.5 322.6) scale(0.92 1)">4042.131</text>
</g>
<g font-family='"Liberation Sans", "DejaVu Sans", sans-serif' font-size="9" fill="#000" stroke="#000" stroke-width="0.12">
<text transform="translate(4 937.2) scale(1.058 1)">Apr 2022</text>
<text transform="translate(54 937.2) scale(1.058 1)">28 Apr 08:00</text>
<text transform="translate(118 937.2) scale(1.058 1)">29 Apr 16:00</text>
<text transform="translate(182 937.2) scale(1.058 1)">3 May 00:00</text>
<text transform="translate(246 937.2) scale(1.058 1)">4 May 08:00</text>
<text transform="translate(310 937.2) scale(1.058 1)">5 May 16:00</text>
<text transform="translate(374 937.2) scale(1.058 1)">9 May 00:00</text>
<text transform="translate(438 937.2) scale(1.058 1)">10 May 08:00</text>
<text transform="translate(502 937.2) scale(1.058 1)">11 May 16:00</text>
<text transform="translate(566 937.2) scale(1.058 1)">13 May 00:00</text>
<text transform="translate(630 937.2) scale(1.058 1)">16 May 08:00</text>
<text transform="translate(694 937.2) scale(1.058 1)">17 May 16:00</text>
<text transform="translate(758 937.2) scale(1.058 1)">19 May 00:00</text>
<text transform="translate(822 937.2) scale(1.058 1)">20 May 08:00</text>
<text transform="translate(886 937.2) scale(1.058 1)">23 May 16:00</text>
<text transform="translate(950 937.2) scale(1.058 1)">25 May 00:00</text>
<text transform="translate(1014 937.2) scale(1.058 1)">26 May 08:00</text>
<text transform="translate(1078 937.2) scale(1.058 1)">27 May 16:00</text>
<text transform="translate(1142 937.2) scale(1.058 1)">31 May 00:00</text>
<text transform="translate(1206 937.2) scale(1.058 1)">1 Jun 08:00</text>
<text transform="translate(1270 937.2) scale(1.058 1)">2 Jun 16:00</text>
<text transform="translate(1334 937.2) scale(1.058 1)">6 Jun 00:00</text>
</g>
<g font-family='"Liberation Sans", "DejaVu Sans", sans-serif' font-size="9.3" fill="#000" stroke="#000" stroke-width="0.12">
<text x="6" y="35" font-size="10" textLength="44.5" lengthAdjust="spacingAndGlyphs">SP500-,H4</text>
<text x="57" y="35" font-size="10" textLength="160.5" lengthAdjust="spacingAndGlyphs">4118.050 4123.550 4117.250 4122.250</text>
<text x="-4.5" y="591">MACD(12,26,9) 2.9502 6.1187</text>
<text x="-5.3" y="763">RSI(14) 48.9379</text>
</g>
<path d="M0 33.5h2" stroke="#000" shape-rendering="crispEdges"/>
<path d="M13.5 37.5l2 2l-2 2l-2-2z" fill="none" stroke="#000" stroke-width="0.9"/>
<g shape-rendering="crispEdges">
<line x1="1099.5" y1="164.6" x2="1211.9" y2="267.1" stroke="#ff0000" stroke-width="3.8"/><polygon fill="#ff0000" points="1218.5,273.2 1207.0,269.5 1211.5,266.8 1213.7,262.1"/>
<line x1="1218.0" y1="273.0" x2="1282.6" y2="186.7" stroke="#ff0000" stroke-width="3.8"/><polygon fill="#ff0000" points="1288.0,179.5 1285.4,191.3 1282.3,187.1 1277.4,185.3"/>
<line x1="1287.5" y1="176.3" x2="1399.5" y2="241.8" stroke="#ff0000" stroke-width="3.6"/><polygon fill="#ff0000" points="1407.3,246.3 1395.3,245.1 1399.1,241.5 1400.3,236.4"/>
<line x1="1293.3" y1="644.4" x2="1395.2" y2="668.7" stroke="#ff0000" stroke-width="3.2"/><polygon fill="#ff0000" points="1403.0,670.6 1392.2,672.7 1394.7,668.6 1394.3,663.9"/>
<line x1="1262.0" y1="825.5" x2="1384.1" y2="841.0" stroke="#ff0000" stroke-width="3.2"/><polygon fill="#ff0000" points="1392.0,842.0 1381.5,845.2 1383.6,840.9 1382.6,836.3"/>
</g>
<g shape-rendering="crispEdges" fill="none" stroke="#ff0000" stroke-width="1">
<rect x="1199.5" y="159.5" width="70.0" height="18.0" fill="#fff"/>
<rect x="975.5" y="230.5" width="70.0" height="18.0" fill="#fff"/>
<rect x="1143.5" y="281.5" width="70.0" height="18.0" fill="#fff"/>
<rect x="850.5" y="555.5" width="69.0" height="18.0" fill="#fff"/>
<path d="M1270 168.5H1279M1046 239.5H1056M1214 290.5H1223.5V284M839.5 564.5H850"/>
</g>
<g font-family='"Liberation Sans", "DejaVu Sans", sans-serif' font-size="16" fill="#ff0000">
<text x="1201.5" y="175">4188.954</text>
<text x="977.5" y="246">4120.372</text>
<text x="1145.5" y="297">4070.832</text>
<text x="852" y="571">3806.099</text>
</g>
<defs><linearGradient id="gbtn" x1="0" y1="0" x2="0" y2="1"><stop offset="0" stop-color="#f65a5a"/><stop offset="1" stop-color="#d92b2b"/></linearGradient><linearGradient id="gpr" x1="0" y1="0" x2="0" y2="1"><stop offset="0" stop-color="#d82828"/><stop offset="1" stop-color="#b00404"/></linearGradient><linearGradient id="gsp" x1="0" y1="0" x2="0" y2="1"><stop offset="0" stop-color="#f6f6f6"/><stop offset="0.45" stop-color="#e6e6e6"/><stop offset="0.5" stop-color="#d8d8d8"/><stop offset="1" stop-color="#d0d0d0"/></linearGradient></defs>
<g shape-rendering="crispEdges">
<rect x="0" y="41" width="215" height="61" fill="#fff"/>
<rect x="0" y="43" width="46" height="24" fill="url(#gbtn)"/>
<path d="M0 43.5H45.5V67" stroke="#c00000" fill="none"/>
<path d="M0 66.5H42" stroke="#7a0000"/><path d="M0 67.5H42" stroke="#f07070"/>
<rect x="0" y="67" width="103" height="33" fill="url(#gpr)"/>
<path d="M45 67.5H102.5V100" stroke="#b80000" fill="none"/>
<rect x="161" y="43" width="52" height="24" fill="url(#gbtn)"/>
<path d="M161.5 67V43.5H212.5V67" stroke="#c00000" fill="none"/>
<path d="M165 66.5H209" stroke="#7a0000"/><path d="M165 67.5H209" stroke="#f07070"/>
<rect x="105" y="67" width="108" height="33" fill="url(#gpr)"/>
<path d="M105.5 100V67.5H161M212.5 67V100" stroke="#b80000" fill="none"/>
<rect x="48.5" y="43.5" width="110" height="21" fill="#fff" stroke="#a8aab0"/>
<rect x="49" y="44" width="20" height="20" fill="url(#gsp)"/><path d="M69.5 44v20" stroke="#a8aab0"/>
<rect x="138" y="44" width="20" height="20" fill="url(#gsp)"/><path d="M137.5 44v20" stroke="#a8aab0"/>
</g>
<path d="M55.5 52h6l-3 3z" fill="#4858c8"/><path d="M144.5 55h6l-3-3z" fill="#4858c8"/>
<g font-family='"Liberation Sans", "DejaVu Sans", sans-serif' fill="#fff">
<text x="6.3" y="59" font-size="12" textLength="25.7" lengthAdjust="spacingAndGlyphs">SELL</text>
<text x="174.6" y="59" font-size="12" textLength="23.4" lengthAdjust="spacingAndGlyphs">BUY</text>
<text x="10" y="95" font-size="12.6" font-weight="bold" textLength="27.5" lengthAdjust="spacingAndGlyphs">4122</text>
<text x="120" y="95" font-size="12.6" font-weight="bold" textLength="27" lengthAdjust="spacingAndGlyphs">4123</text>
<text x="42" y="95" font-size="33.5" textLength="33" lengthAdjust="spacingAndGlyphs">23</text>
<text x="153" y="95" font-size="33.5" textLength="34" lengthAdjust="spacingAndGlyphs">06</text>
<text x="81.3" y="79" font-size="12.6" font-weight="bold">5</text>
<text x="192.3" y="79" font-size="12.6" font-weight="bold">5</text>
</g>
<text x="133.8" y="58" text-anchor="end" font-family='"Liberation Sans", "DejaVu Sans", sans-serif' font-size="12" fill="#000">1.00</text>
</svg>
</body></html>
